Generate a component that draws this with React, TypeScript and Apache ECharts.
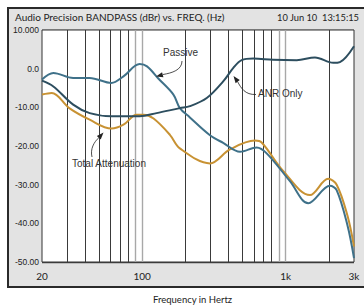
import React, { useEffect, useRef } from "react";
import * as echarts from "echarts";

// Frequency (Hz) / level (dBr) pairs
const passiveFreq = [20, 24, 33, 43, 61, 74, 96, 108, 130, 165, 183, 215, 297, 367, 481, 628, 738, 1072, 1440, 2040, 2270, 2700, 3000];
const passiveDb = [-2.8, -1.1, -2.4, -2.4, -3.7, -2.0, 1.2, 0.6, -2.6, -6.7, -10.2, -12.6, -17.2, -19.2, -21.5, -20.4, -21.9, -29.1, -34.8, -30.3, -31.4, -40.5, -49.0];

const anrFreq = [20, 24, 33, 43, 61, 96, 126, 183, 215, 282, 367, 432, 494, 595, 820, 1195, 1603, 2150, 2394, 3000];
const anrDb = [-3.1, -4.6, -9.3, -11.5, -12.3, -12.3, -11.5, -10.2, -9.7, -7.6, -3.3, 0.2, 2.2, 2.6, 2.3, 2.2, 2.9, 1.5, 1.7, 5.8];

const totalFreq = [20, 23.4, 31, 43, 61, 74, 91.5, 102, 120, 156, 183, 297, 409, 611, 681, 964, 1479, 1980, 2271, 2700, 3000];
const totalDb = [-6.7, -6.3, -10.2, -13.2, -15.5, -14.5, -11.9, -11.9, -12.9, -17.1, -20.6, -24.5, -20.9, -18.6, -19.1, -26.5, -32.7, -28.5, -30.0, -38.0, -46.0];

const darkGridFreqs = [30, 40, 50, 60, 70, 80, 200, 300, 400, 500, 600, 700, 800, 2000];
const lightGridFreqs = [90, 100, 900, 1000];

const xTickLabels: Record<number, string> = { 20: "20", 100: "100", 1000: "1k", 3000: "3k" };

const TITLE = "Audio Precision BANDPASS (dBr) vs. FREQ. (Hz)";
const STAMP = "10 Jun 10  13:15:15";
const X_NAME = "Frequency in Hertz";

const NARROW = "'Liberation Sans Narrow', 'Liberation Sans', Arial, sans-serif";

function pairs(xs: number[], ys: number[]) {
  return xs.map((x, i) => [x, ys[i]]);
}

function arrowHead(tipX: number, tipY: number, fromX: number, fromY: number, color: string) {
  const dx = tipX - fromX;
  const dy = tipY - fromY;
  const len = Math.sqrt(dx * dx + dy * dy) || 1;
  const ux = dx / len;
  const uy = dy / len;
  const L = 7;
  const W = 2.6;
  const bx = tipX - ux * L;
  const by = tipY - uy * L;
  return {
    type: "polygon",
    z: 100,
    shape: {
      points: [
        [tipX, tipY],
        [bx - uy * W, by + ux * W],
        [bx + uy * W, by - ux * W],
      ],
    },
    style: { fill: color },
  };
}

export default function App() {
  const ref = useRef<HTMLDivElement>(null);

  useEffect(() => {
    if (!ref.current) return;
    const chart = echarts.init(ref.current, undefined, { renderer: "svg" });
    const annColor = "#222";

    const option: any = {
      animation: false,
      backgroundColor: "#ffffff",
      grid: {
        left: 42,
        top: 30,
        right: 10,
        bottom: 43,
        show: true,
        backgroundColor: "#ffffff",
        borderColor: "#333",
        borderWidth: 1,
        z: 1,
      },
      xAxis: {
        type: "log",
        logBase: 10,
        min: 20,
        max: 3000,
        axisLine: { show: false },
        axisTick: { show: false },
        splitLine: { show: false },
        minorSplitLine: { show: false },
        axisLabel: {
          show: true,
          showMinLabel: true,
          showMaxLabel: true,
          margin: 9,
          color: "#222",
          fontSize: 10,
          fontFamily: "Lato, 'Open Sans', sans-serif",
          formatter: (v: number) => {
            const r = Math.round(v);
            return xTickLabels[r] ?? "";
          },
        },
      },
      yAxis: {
        type: "value",
        min: -50,
        max: 10,
        interval: 10,
        axisLine: { show: false },
        axisTick: { show: false },
        splitLine: { show: true, lineStyle: { color: "#444", width: 1.4 } },
        axisLabel: {
          margin: 3,
          color: "#222",
          fontSize: 8.5,
          fontFamily: NARROW,
          formatter: (v: number) => {
            if (v === 10) return "10.000";
            if (v === 0) return "0.0";
            return v.toFixed(2);
          },
        },
      },
      graphic: [
        {
          type: "rect",
          z: -10,
          silent: true,
          shape: { x: 8, y: 8, width: 370, height: 279 },
          style: { fill: "#e3e3e3", stroke: "#2a2a2a", lineWidth: 2 },
        },
        {
          type: "text",
          z: 10,
          left: 15,
          top: 12,
          style: { text: TITLE, fill: "#222", fontSize: 10, fontFamily: "Lato, 'Open Sans', sans-serif" },
        },
        {
          type: "text",
          z: 10,
          x: 277,
          y: 13,
          style: { text: STAMP, fill: "#222", fontSize: 9.3, fontFamily: "Lato, 'Open Sans', sans-serif" },
        },
        {
          type: "text",
          z: 10,
          left: 153,
          top: 294,
          style: { text: X_NAME, fill: "#222", fontSize: 9.5, fontFamily: "Lato, 'Open Sans', sans-serif" },
        },
        // Passive annotation
        {
          type: "text",
          z: 100,
          x: 163,
          y: 47,
          style: { text: "Passive", fill: "#333", fontSize: 10, fontFamily: NARROW },
        },
        {
          type: "bezierCurve",
          z: 100,
          shape: { x1: 182, y1: 61, cpx1: 182, cpy1: 70, cpx2: 172, cpy2: 73, x2: 163, y2: 74.5 },
          style: { stroke: annColor, lineWidth: 0.8, fill: null },
        },
        arrowHead(156, 76.5, 164, 74.3, annColor),
        // ANR annotation
        {
          type: "text",
          z: 100,
          x: 258,
          y: 88,
          style: { text: "ANR Only", fill: "#333", fontSize: 10, fontFamily: NARROW },
        },
        {
          type: "bezierCurve",
          z: 100,
          shape: { x1: 256, y1: 94.5, cpx1: 245, cpy1: 95, cpx2: 241, cpy2: 88, x2: 237.5, y2: 81.5 },
          style: { stroke: annColor, lineWidth: 0.8, fill: null },
        },
        arrowHead(233.5, 76, 238, 82, annColor),
        // Total attenuation annotation
        {
          type: "text",
          z: 100,
          x: 72,
          y: 158,
          style: { text: "Total Attenuation", fill: "#333", fontSize: 10, fontFamily: NARROW },
        },
        {
          type: "bezierCurve",
          z: 100,
          shape: { x1: 92, y1: 157, cpx1: 90, cpy1: 149, cpx2: 94, cpy2: 142, x2: 99, y2: 137.5 },
          style: { stroke: annColor, lineWidth: 0.8, fill: null },
        },
        arrowHead(103.5, 132.5, 98.5, 138, annColor),
      ],
      series: [
        {
          type: "line",
          name: "grid-dark",
          data: [],
          silent: true,
          z: 2,
          markLine: {
            silent: true,
            symbol: ["none", "none"],
            label: { show: false },
            lineStyle: { color: "#3a3a3a", width: 1, type: "solid" },
            data: darkGridFreqs.map((f) => ({ xAxis: f })),
          },
        },
        {
          type: "line",
          name: "grid-light",
          data: [],
          silent: true,
          z: 2,
          markLine: {
            silent: true,
            symbol: ["none", "none"],
            label: { show: false },
            lineStyle: { color: "#a8a8a8", width: 1.4, type: "solid" },
            data: lightGridFreqs.map((f) => ({ xAxis: f })),
          },
        },
        {
          type: "line",
          name: "Total Attenuation",
          data: pairs(totalFreq, totalDb),
          showSymbol: false,
          smooth: 0.35,
          z: 5,
          lineStyle: { color: "#c89233", width: 2 },
        },
        {
          type: "line",
          name: "Passive",
          data: pairs(passiveFreq, passiveDb),
          showSymbol: false,
          smooth: 0.35,
          z: 6,
          lineStyle: { color: "#3f7189", width: 2 },
        },
        {
          type: "line",
          name: "ANR Only",
          data: pairs(anrFreq, anrDb),
          showSymbol: false,
          smooth: 0.35,
          z: 7,
          lineStyle: { color: "#2d4e5f", width: 2 },
        },
      ],
    };

    chart.setOption(option);
    return () => chart.dispose();
  }, []);

  return <div ref={ref} style={{ width: 364, height: 305, position: "absolute", left: 0, top: 0 }} />;
}
